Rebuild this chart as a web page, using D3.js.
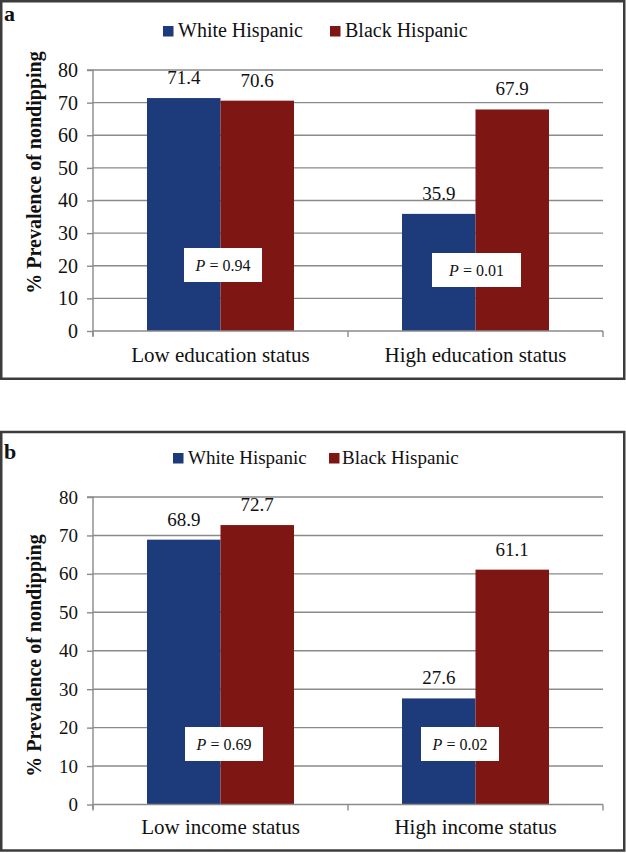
<!DOCTYPE html>
<html>
<head>
<meta charset="utf-8">
<script src="https://cdn.jsdelivr.net/npm/d3@7"></script>
<style>
  html, body { margin: 0; padding: 0; background: #fff; }
  svg { display: block; }
  text { font-family: "Liberation Serif", "Times New Roman", serif; fill: #111; }
</style>
</head>
<body>
<svg id="chart" width="626" height="853"></svg>
<script>
// ---------- data ----------
const seriesNames = ["White Hispanic", "Black Hispanic"];
const seriesColors = ["#1d3a7a", "#7e1714"];
const yTicks = [0, 10, 20, 30, 40, 50, 60, 70, 80];
const yAxisTitle = "% Prevalence of nondipping";

const educationCategories = ["Low education status", "High education status"];
const educationWhite = [71.4, 35.9];
const educationBlack = [70.6, 67.9];
const educationP = ["0.94", "0.01"];

const incomeCategories = ["Low income status", "High income status"];
const incomeWhite = [68.9, 27.6];
const incomeBlack = [72.7, 61.1];
const incomeP = ["0.69", "0.02"];

// ---------- layout ----------
const svg = d3.select("#chart");
svg.append("rect").attr("width", 626).attr("height", 853).attr("fill", "#fff");

const panels = [
  {
    letter: "a", categories: educationCategories, white: educationWhite, black: educationBlack, pvals: educationP,
    box: [1.25, 1.25, 623, 377.5], letterY: 21,
    legendY: 26, legendX: [163, 330], legendTextX: [178, 345], legendFont: 20,
    plotTop: 70, plotBottom: 331, tickFont: 20, titleCenter: 172.5, catBaseline: 362,
    pBoxes: [{cx: 223, cy: 265, w: 78, h: 34}, {cx: 476.5, cy: 270, w: 89, h: 34}]
  },
  {
    letter: "b", categories: incomeCategories, white: incomeWhite, black: incomeBlack, pvals: incomeP,
    box: [1.25, 432, 623, 418.5], letterY: 459,
    legendY: 453, legendX: [173, 329], legendTextX: [188, 342], legendFont: 19,
    plotTop: 497, plotBottom: 804.5, tickFont: 19, titleCenter: 655.5, catBaseline: 834,
    pBoxes: [{cx: 224, cy: 744, w: 78, h: 34}, {cx: 460, cy: 744, w: 78, h: 34}]
  }
];

const plotLeft = 93, plotRight = 603;
const gridColor = "#8a8a8a";

panels.forEach(p => {
  const g = svg.append("g");

  // panel border
  g.append("rect")
    .attr("x", p.box[0]).attr("y", p.box[1]).attr("width", p.box[2]).attr("height", p.box[3])
    .attr("fill", "none").attr("stroke", "#3c3c3c").attr("stroke-width", 2.5);

  // panel letter
  g.append("text").attr("x", 4).attr("y", p.letterY)
    .attr("font-size", 22).attr("font-weight", "bold").text(p.letter);

  // legend
  seriesNames.forEach((s, i) => {
    g.append("rect").attr("x", p.legendX[i]).attr("y", p.legendY).attr("width", 10.5).attr("height", 10.5)
      .attr("fill", seriesColors[i]);
    g.append("text").attr("x", p.legendTextX[i]).attr("y", p.legendY + 11)
      .attr("font-size", p.legendFont).text(s);
  });

  // scales
  const y = d3.scaleLinear().domain([0, 80]).range([p.plotBottom, p.plotTop]);
  const x0 = d3.scaleBand().domain(p.categories).range([plotLeft, plotRight]).padding(0);
  const x1 = d3.scaleBand().domain(seriesNames).range([0, x0.bandwidth()])
    .paddingInner(0).paddingOuter(0.7347);

  // gridlines
  g.append("g").selectAll("line").data(yTicks.filter(t => t > 0)).join("line")
    .attr("x1", plotLeft).attr("x2", plotRight)
    .attr("y1", d => y(d)).attr("y2", d => y(d))
    .attr("stroke", gridColor).attr("stroke-width", 1.4);

  // y axis
  const yAxis = g.append("g").attr("transform", `translate(${plotLeft},0)`)
    .call(d3.axisLeft(y).tickValues(yTicks).tickSize(6).tickPadding(9).tickFormat(d3.format("d")));
  yAxis.select(".domain").attr("stroke", gridColor).attr("stroke-width", 1.4)
    .attr("d", `M-6,${p.plotTop}H0V${p.plotBottom + 5}`);
  yAxis.selectAll(".tick line").attr("stroke", gridColor).attr("stroke-width", 1.4);
  yAxis.selectAll(".tick text").attr("font-size", p.tickFont)
    .attr("font-family", "'Liberation Serif', 'Times New Roman', serif").attr("fill", "#111");

  // y title
  g.append("text")
    .attr("transform", `translate(34,${p.titleCenter}) rotate(-90)`)
    .attr("text-anchor", "middle").attr("dominant-baseline", "central")
    .attr("font-size", 20).attr("font-weight", "bold").text(yAxisTitle);

  // bars
  const rows = p.categories.map((c, i) => ({cat: c, vals: [p.white[i], p.black[i]]}));
  const groups = g.append("g").selectAll("g").data(rows).join("g")
    .attr("transform", d => `translate(${x0(d.cat)},0)`);
  groups.selectAll("rect").data(d => d.vals.map((v, i) => ({s: seriesNames[i], v, i}))).join("rect")
    .attr("x", d => x1(d.s)).attr("width", x1.bandwidth())
    .attr("y", d => y(d.v)).attr("height", d => y(0) - y(d.v))
    .attr("fill", d => seriesColors[d.i]);
  groups.selectAll("text.val").data(d => d.vals.map((v, i) => ({s: seriesNames[i], v}))).join("text")
    .attr("class", "val")
    .attr("x", d => x1(d.s) + x1.bandwidth() / 2).attr("y", d => y(d.v) - 14)
    .attr("text-anchor", "middle").attr("font-size", 19)
    .text(d => d3.format(".1f")(d.v));

  // x axis
  const xg = g.append("g").attr("transform", `translate(0,${p.plotBottom})`);
  xg.append("line").attr("x1", plotLeft).attr("x2", plotRight).attr("y1", 0).attr("y2", 0)
    .attr("stroke", gridColor).attr("stroke-width", 1.4);
  const edges = [plotLeft].concat(p.categories.map(c => x0(c) + x0.bandwidth()));
  xg.selectAll("line.tk").data(edges).join("line").attr("class", "tk")
    .attr("x1", d => d).attr("x2", d => d).attr("y1", 0).attr("y2", 6)
    .attr("stroke", gridColor).attr("stroke-width", 1.4);
  g.append("g").selectAll("text").data(p.categories).join("text")
    .attr("x", d => x0(d) + x0.bandwidth() / 2).attr("y", p.catBaseline)
    .attr("text-anchor", "middle").attr("font-size", 21).text(d => d);

  // P value boxes
  p.pBoxes.forEach((b, i) => {
    g.append("rect").attr("x", b.cx - b.w / 2).attr("y", b.cy - b.h / 2)
      .attr("width", b.w).attr("height", b.h).attr("fill", "#fff");
    const t = g.append("text").attr("x", b.cx).attr("y", b.cy + 6)
      .attr("text-anchor", "middle").attr("font-size", 16);
    t.append("tspan").attr("font-style", "italic").text("P");
    t.append("tspan").text(" = " + p.pvals[i]);
  });
});
</script>
</body>
</html>
